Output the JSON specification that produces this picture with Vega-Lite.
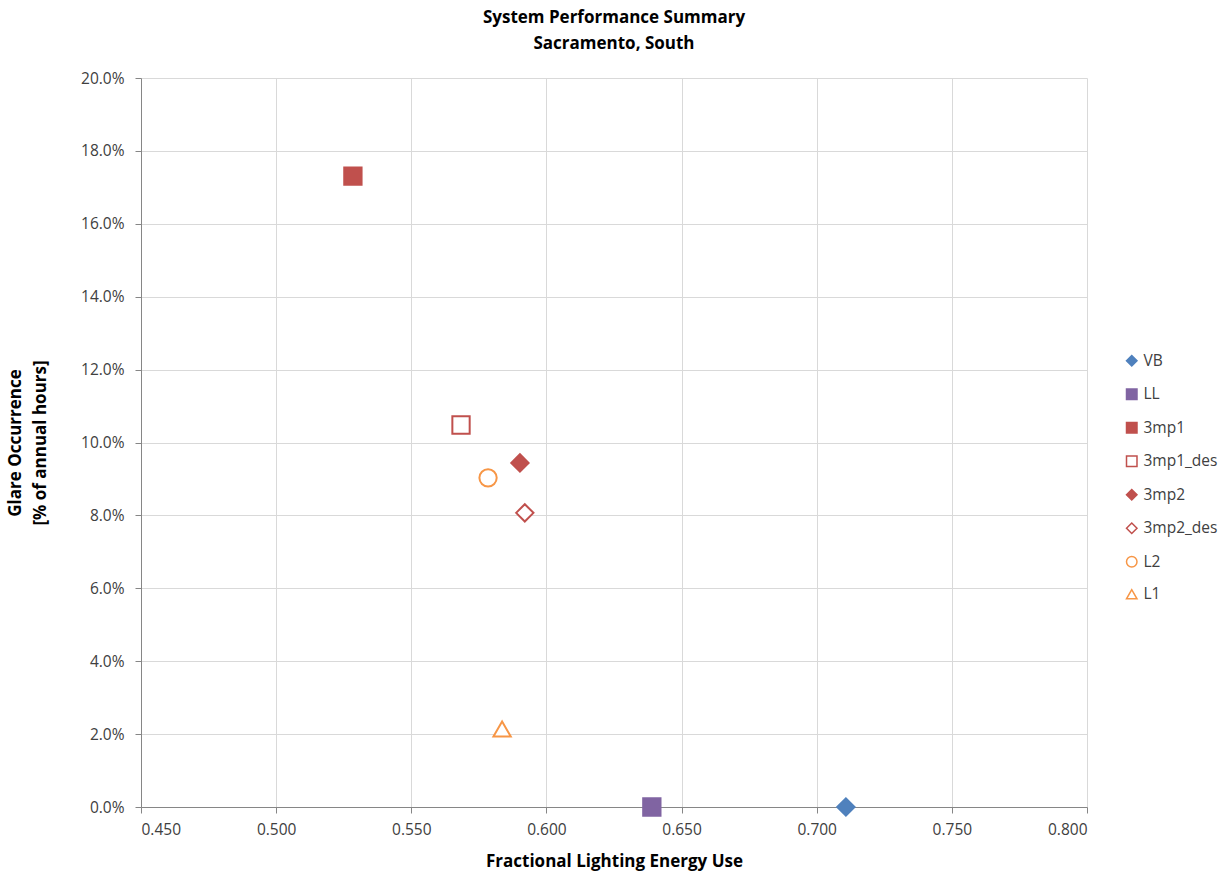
{
  "$schema": "https://vega.github.io/schema/vega-lite/v6.json",
  "width": 946,
  "height": 729,
  "autosize": "none",
  "padding": {"left": 141, "top": 78, "right": 139, "bottom": 64},
  "background": "white",
  "title": {
    "text": ["System Performance Summary", "Sacramento, South"],
    "font": "Open Sans",
    "fontSize": 17,
    "fontWeight": "bold",
    "color": "#000000",
    "anchor": "middle",
    "offset": 18,
    "lineHeight": 26
  },
  "config": {
    "view": {"stroke": null},
    "font": "Open Sans"
  },
  "data": {
    "values": [
      {"series": "VB", "energy": 0.7108, "glare": 0.0},
      {"series": "LL", "energy": 0.6390, "glare": 0.0},
      {"series": "3mp1", "energy": 0.5284, "glare": 0.1731},
      {"series": "3mp1_des", "energy": 0.5684, "glare": 0.1048},
      {"series": "3mp2", "energy": 0.5902, "glare": 0.0944},
      {"series": "3mp2_des", "energy": 0.5920, "glare": 0.0807},
      {"series": "L2", "energy": 0.5784, "glare": 0.0903},
      {"series": "L1", "energy": 0.5836, "glare": 0.0214}
    ]
  },
  "mark": {"type": "point", "size": 300, "strokeWidth": 2, "opacity": 1, "clip": false},
  "encoding": {
    "x": {
      "field": "energy",
      "type": "quantitative",
      "scale": {"domain": [0.45, 0.8], "nice": false, "zero": false},
      "axis": {
        "title": "Fractional Lighting Energy Use",
        "titleFont": "Open Sans",
        "titleFontSize": 17,
        "titleFontWeight": "bold",
        "titleColor": "#000000",
        "titlePadding": 16,
        "format": ".3f",
        "values": [0.45, 0.5, 0.55, 0.6, 0.65, 0.7, 0.75, 0.8],
        "labelFontSize": 15.5,
        "labelColor": "#404040",
        "labelPadding": 9,
        "grid": true,
        "gridColor": "#d9d9d9",
        "domainColor": "#868686",
        "tickColor": "#868686",
        "tickSize": 6
      }
    },
    "y": {
      "field": "glare",
      "type": "quantitative",
      "scale": {"domain": [0, 0.2], "nice": false},
      "axis": {
        "title": ["Glare Occurrence", "[% of annual hours]"],
        "titleFont": "Open Sans",
        "titleFontSize": 17,
        "titleFontWeight": "bold",
        "titleColor": "#000000",
        "titlePadding": 31,
        "titleLineHeight": 25,
        "format": ".1%",
        "values": [0, 0.02, 0.04, 0.06, 0.08, 0.1, 0.12, 0.14, 0.16, 0.18, 0.2],
        "labelFontSize": 15.5,
        "labelColor": "#404040",
        "labelPadding": 11,
        "grid": true,
        "gridColor": "#d9d9d9",
        "domainColor": "#868686",
        "tickColor": "#868686",
        "tickSize": 6
      }
    },
    "shape": {
      "field": "series",
      "type": "nominal",
      "scale": {
        "domain": ["VB", "LL", "3mp1", "3mp1_des", "3mp2", "3mp2_des", "L2", "L1"],
        "range": ["diamond", "square", "square", "square", "diamond", "diamond", "circle", "triangle-up"]
      },
      "legend": {"title": null}
    },
    "stroke": {
      "field": "series",
      "type": "nominal",
      "scale": {
        "domain": ["VB", "LL", "3mp1", "3mp1_des", "3mp2", "3mp2_des", "L2", "L1"],
        "range": ["#4F81BD", "#8064A2", "#C0504D", "#C0504D", "#C0504D", "#C0504D", "#F79646", "#F79646"]
      },
      "legend": {"title": null}
    },
    "fill": {
      "field": "series",
      "type": "nominal",
      "scale": {
        "domain": ["VB", "LL", "3mp1", "3mp1_des", "3mp2", "3mp2_des", "L2", "L1"],
        "range": ["#4F81BD", "#8064A2", "#C0504D", "#ffffff", "#C0504D", "#ffffff", "#ffffff", "#ffffff"]
      },
      "legend": {
        "title": null,
        "orient": "none",
        "legendX": 983,
        "legendY": 275,
        "symbolSize": 110,
        "symbolStrokeWidth": 1.5,
        "labelFontSize": 15.5,
        "labelColor": "#404040",
        "labelFont": "Open Sans",
        "rowPadding": 15.5,
        "labelOffset": 4
      }
    }
  }
}
